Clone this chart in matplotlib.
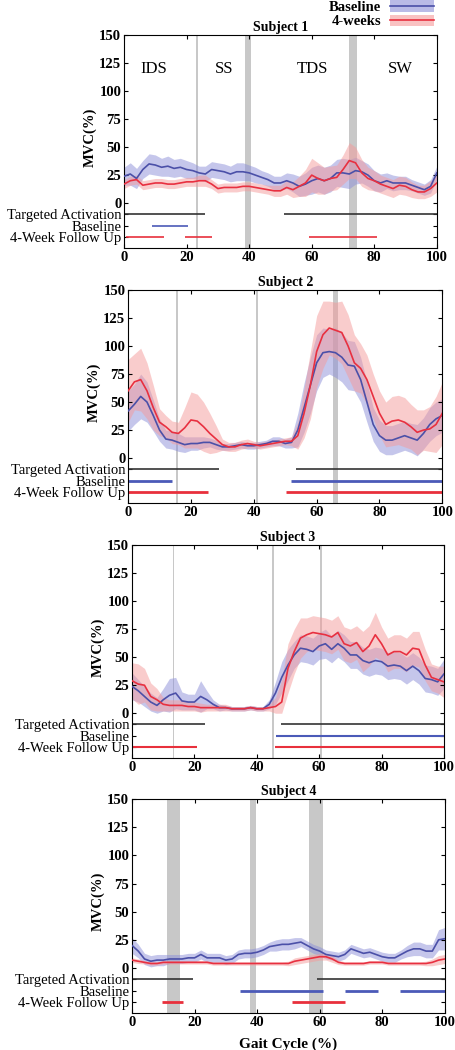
import numpy as np
import matplotlib
matplotlib.use("Agg")
import matplotlib.pyplot as plt
from matplotlib.patches import Patch
from matplotlib.lines import Line2D

plt.rcParams['font.family'] = ['Liberation Serif', 'DejaVu Serif']

# gait cycle sample points (%)
gait = np.arange(0, 101, 2)

# ---- Subject 1 ----
s1_base = [24, 26, 22, 30, 35, 34, 32, 33, 31, 32, 30, 29, 27, 26, 30, 29, 28, 26, 28, 28,
           27, 25, 23, 21, 18, 18, 20, 18, 15, 17, 20, 22, 20, 22, 27, 27, 26, 29, 28, 25,
           20, 18, 20, 18, 18, 18, 16, 14, 12, 15, 27]
s1_base_sd = [8, 10, 9, 8, 9, 9, 8, 9, 8, 8, 8, 7, 6, 7, 7, 7, 7, 7, 8, 8,
              7, 7, 6, 6, 6, 6, 7, 8, 9, 10, 12, 12, 12, 12, 12, 13, 13, 12, 10, 10,
              9, 8, 7, 7, 6, 6, 5, 5, 5, 6, 6]
s1_4wk = [17, 20, 21, 16, 17, 18, 18, 17, 17, 18, 19, 19, 20, 20, 17, 13, 14, 14, 14, 15,
          15, 14, 13, 12, 11, 11, 14, 12, 15, 18, 25, 22, 20, 22, 23, 30, 38, 36, 27, 22,
          20, 17, 15, 13, 16, 15, 12, 10, 10, 13, 18]
s1_4wk_sd = [4, 4, 4, 4, 4, 4, 4, 4, 4, 4, 4, 4, 5, 5, 4, 4, 4, 4, 4, 4,
             4, 4, 4, 4, 5, 5, 6, 7, 9, 12, 15, 14, 12, 11, 11, 13, 16, 14, 12, 10,
             9, 8, 8, 8, 8, 8, 7, 6, 6, 7, 8]

# ---- Subject 2 ----
s2_base = [42, 48, 55, 50, 38, 25, 17, 16, 14, 12, 13, 13, 14, 14, 12, 10, 10, 11, 12, 11,
           11, 12, 13, 15, 15, 13, 14, 25, 45, 65, 85, 94, 95, 94, 90, 83, 82, 70, 50, 30,
           20, 16, 16, 18, 20, 18, 16, 22, 30, 35, 38]
s2_base_sd = [18, 18, 20, 18, 14, 10, 8, 8, 8, 7, 6, 6, 5, 4, 4, 3, 3, 3, 3, 3,
              3, 3, 3, 4, 4, 4, 5, 15, 22, 25, 25, 22, 20, 22, 22, 22, 22, 20, 18, 15,
              14, 13, 13, 13, 13, 13, 14, 14, 15, 15, 15]
s2_4wk = [60, 68, 70, 60, 45, 32, 28, 23, 22, 27, 34, 33, 28, 22, 17, 12, 10, 10, 12, 13,
          12, 11, 12, 13, 14, 15, 15, 20, 40, 65, 95, 110, 116, 114, 112, 100, 85, 80, 70, 55,
          40, 30, 33, 34, 32, 28, 23, 25, 26, 30, 40]
s2_4wk_sd = [28, 25, 28, 25, 20, 12, 10, 10, 10, 18, 25, 24, 22, 18, 12, 5, 4, 4, 4, 4,
             3, 3, 3, 3, 3, 3, 4, 12, 22, 30, 32, 30, 24, 25, 28, 28, 25, 22, 22, 20,
             20, 20, 22, 22, 22, 20, 20, 18, 20, 25, 28]

# ---- Subject 3 ----
s3_base = [24, 20, 15, 10, 7, 12, 16, 18, 11, 10, 10, 15, 12, 8, 5, 5, 4, 4, 4, 5,
           4, 4, 8, 18, 32, 43, 52, 58, 57, 55, 60, 62, 57, 62, 58, 52, 52, 47, 45, 47,
           46, 42, 43, 42, 38, 42, 38, 31, 30, 28, 35]
s3_base_sd = [12, 10, 9, 8, 7, 10, 15, 14, 8, 7, 7, 14, 8, 4, 3, 2, 2, 2, 2, 2,
              2, 2, 4, 10, 14, 14, 12, 12, 12, 12, 12, 13, 12, 12, 12, 12, 12, 12, 12, 12,
              12, 12, 12, 12, 12, 12, 12, 12, 12, 12, 13]
s3_4wk = [29, 26, 25, 15, 12, 8, 7, 7, 7, 6, 6, 5, 5, 5, 5, 5, 4, 4, 4, 5,
          4, 4, 5, 6, 10, 40, 55, 67, 70, 72, 71, 70, 68, 72, 62, 60, 63, 55, 60, 70,
          62, 52, 55, 55, 52, 58, 57, 43, 32, 30, 28]
s3_4wk_sd = [16, 18, 15, 12, 10, 6, 5, 5, 5, 4, 4, 4, 3, 3, 3, 3, 2, 2, 2, 2,
             2, 2, 3, 8, 20, 22, 20, 18, 15, 15, 15, 15, 15, 15, 15, 15, 15, 18, 18, 20,
             15, 15, 15, 15, 15, 15, 16, 14, 12, 12, 14]

# ---- Subject 4 ----
s4_base = [20, 15, 8, 6, 7, 7, 8, 8, 8, 9, 9, 12, 9, 9, 9, 7, 8, 12, 13, 13,
           14, 16, 19, 20, 21, 21, 22, 23, 20, 17, 15, 12, 11, 10, 12, 17, 15, 13, 14, 12,
           10, 9, 9, 12, 15, 17, 17, 15, 15, 25, 26]
s4_base_sd = [7, 6, 5, 5, 5, 5, 4, 4, 4, 4, 4, 4, 4, 4, 4, 4, 4, 4, 4, 4,
              4, 4, 4, 5, 5, 5, 5, 4, 4, 4, 4, 4, 4, 4, 4, 4, 4, 4, 4, 4,
              4, 4, 4, 4, 5, 6, 6, 6, 6, 9, 10]
s4_4wk = [7, 6, 5, 4, 4, 5, 5, 5, 5, 5, 5, 5, 5, 4, 4, 4, 4, 4, 4, 4,
          4, 4, 4, 4, 4, 4, 6, 7, 8, 9, 10, 10, 8, 5, 4, 4, 4, 4, 5, 5,
          5, 4, 4, 4, 4, 4, 4, 4, 5, 7, 8]
s4_4wk_sd = [2, 2, 1.5, 1.5, 1.5, 1.5, 1.5, 1.5, 1.5, 1.5, 1.5, 1.5, 1.5, 1.5, 1.5, 1.5, 1.5, 1.5, 1.5, 1.5,
             1.5, 1.5, 1.5, 1.5, 1.5, 2, 3, 3, 3, 3, 3, 3, 3, 2, 1.5, 1.5, 1.5, 1.5, 1.5, 1.5,
             1.5, 1.5, 1.5, 1.5, 1.5, 1.5, 1.5, 2, 3, 4, 4]

# activation intervals (start, end) in % gait cycle
s1_target = [(0, 26), (51, 100)]
s1_base_on = [(9, 20.5)]
s1_4wk_on = [(0.5, 12.7), (19.6, 28), (59, 81)]
s2_target = [(0, 29), (53.4, 100)]
s2_base_on = [(0, 14.1), (51.9, 100)]
s2_4wk_on = [(0, 25.3), (50.2, 100)]
s3_target = [(0, 23.3), (47.8, 100)]
s3_base_on = [(46.3, 100)]
s3_4wk_on = [(0, 20.8), (45.9, 100)]
s4_target = [(0, 19.5), (59.2, 100)]
s4_base_on = [(34.6, 60.9), (68.2, 78.5), (85.6, 100)]
s4_4wk_on = [(9.6, 16.3), (51, 68)]

# gray markers (start, end) of phase events
s1_marks = [(22.9, 23.5), (38.8, 40.6), (72, 74.4)]
s2_marks = [(15.1, 15.8), (40.7, 41.4), (65.2, 66.8)]
s3_marks = [(13.0, 13.6), (44.8, 45.4), (60.3, 60.9)]
s4_marks = [(11.3, 15.4), (37.8, 39.6), (56.6, 60.9)]

phase_names = ['IDS', 'SS', 'TDS', 'SW']
phase_x = [9.6, 31.9, 60.3, 88.3]

row_labels = ['4-Week Follow Up', 'Baseline', 'Targeted Activation']
row_y = [-30, -20, -10]

blue = '#4b50a8'
blue_fill = '#8c8fd8'
red = '#e83040'
red_fill = '#f59a9a'

subjects = [
    ('Subject 1', s1_base, s1_base_sd, s1_4wk, s1_4wk_sd, s1_target, s1_base_on, s1_4wk_on, s1_marks, 1.2,
     [0.272, 0.7638, 0.686, 0.2029]),
    ('Subject 2', s2_base, s2_base_sd, s2_4wk, s2_4wk_sd, s2_target, s2_base_on, s2_4wk_on, s2_marks, 2.0,
     [0.281, 0.521, 0.689, 0.2029]),
    ('Subject 3', s3_base, s3_base_sd, s3_4wk, s3_4wk_sd, s3_target, s3_base_on, s3_4wk_on, s3_marks, 1.5,
     [0.2895, 0.278, 0.684, 0.2029]),
    ('Subject 4', s4_base, s4_base_sd, s4_4wk, s4_4wk_sd, s4_target, s4_base_on, s4_4wk_on, s4_marks, 2.0,
     [0.2895, 0.0352, 0.686, 0.2038]),
]

fig = plt.figure(figsize=(4.56, 10.5), dpi=100)

for i, (title, mb, sb, m4, s4, tgt, bon, won, marks, lw, pos) in enumerate(subjects):
    ax = fig.add_axes(pos)
    mb = np.array(mb, float); sb = np.array(sb, float)
    m4 = np.array(m4, float); s4 = np.array(s4, float)
    for a, b in marks:
        ax.axvspan(a, b, color='#c8c8c8', lw=0, zorder=0)
    ax.fill_between(gait, np.maximum(mb - sb, 0), mb + sb, color=blue_fill, alpha=0.5, lw=0, zorder=1)
    ax.fill_between(gait, np.maximum(m4 - s4, 0), m4 + s4, color=red_fill, alpha=0.5, lw=0, zorder=1)
    ax.plot(gait, mb, color=blue, lw=1.2, zorder=3)
    ax.plot(gait, m4, color=red, lw=1.2, zorder=3)
    for a, b in tgt:
        ax.hlines(-10, a, b, color='#333333', lw=1.2)
    for a, b in bon:
        ax.hlines(-20, a, b, color='#4b5ab8', lw=lw)
    for a, b in won:
        ax.hlines(-30, a, b, color='#e8303c', lw=lw)
    ax.set_xlim(0, 100)
    ax.set_ylim(-40, 150)
    ax.set_yticks(row_y + [0, 25, 50, 75, 100, 125, 150])
    ax.set_yticklabels(row_labels + ['0', '25', '50', '75', '100', '125', '150'])
    for t in ax.get_yticklabels()[:3]:
        t.set_fontsize(11.5)
    for t in ax.get_yticklabels()[3:]:
        t.set_fontweight('bold')
    ax.set_xticks([0, 20, 40, 60, 80, 100])
    for t in ax.get_xticklabels():
        t.set_fontweight('bold')
    ax.tick_params(direction='in', top=True, right=True, labelsize=10.5, length=3, pad=2)
    ax.set_title(title, fontsize=10, fontweight='bold', pad=3)
    ax.text(-0.11, 0.52, 'MVC(%)', rotation=90, transform=ax.transAxes,
            ha='center', va='center', fontsize=10.5, fontweight='bold')
    if i == 0:
        for name, px in zip(phase_names, phase_x):
            ax.text(px, 120, name, ha='center', va='center', fontsize=12)
    if i == 3:
        ax.set_xlabel('Gait Cycle (%)', fontsize=11, fontweight='bold', labelpad=6)

handles = [(Patch(facecolor=blue_fill, alpha=0.6), Line2D([], [], color=blue, lw=1.2)),
           (Patch(facecolor=red_fill, alpha=0.6), Line2D([], [], color=red, lw=1.2))]
fig.legend(handles, ['Baseline', '4-weeks'], loc='upper right', bbox_to_anchor=(0.97, 1.008),
           frameon=False, markerfirst=False, prop={'weight': 'bold', 'size': 10.5},
           handlelength=3.0, handleheight=0.8, labelspacing=0.05, borderpad=0.1, handletextpad=0.6)

fig.savefig('out.png', dpi=100)
